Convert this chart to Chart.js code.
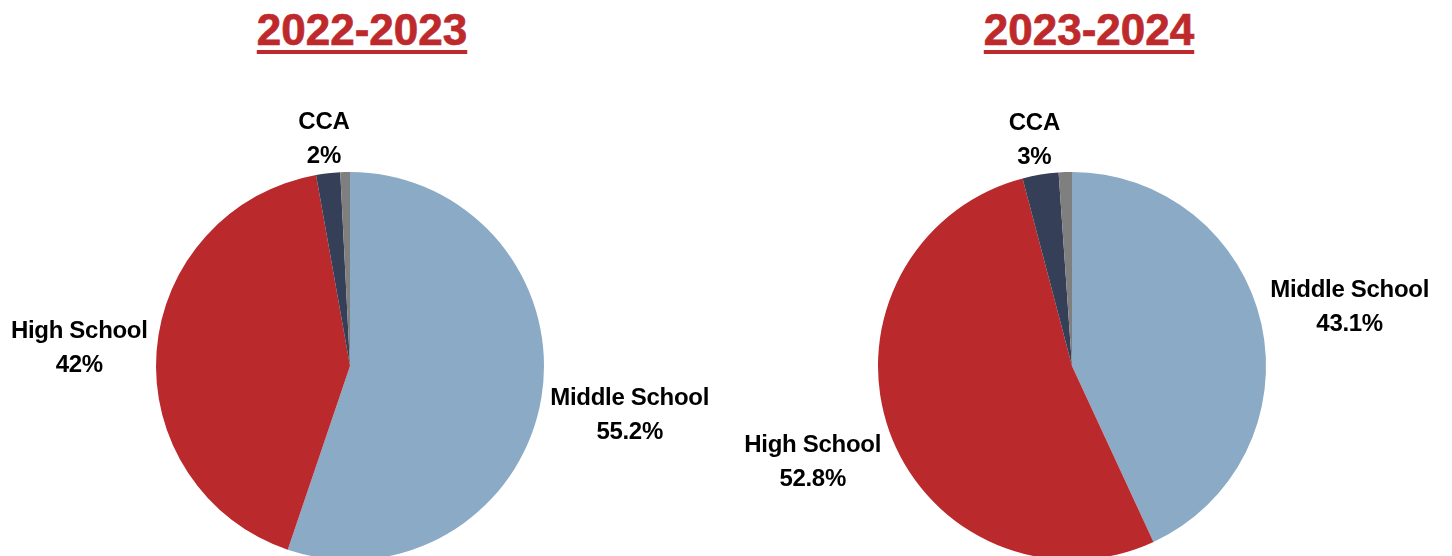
<!DOCTYPE html>
<html>
<head>
<meta charset="utf-8">
<script src="https://cdn.jsdelivr.net/npm/chart.js@4"></script>
<style>
  html, body { margin: 0; padding: 0; background: #fff; width: 1452px; height: 556px; overflow: hidden; }
  .wrap { position: absolute; top: 0; width: 726px; height: 570px; }
  .title {
    position: absolute; top: 8px; width: 500px; text-align: center;
    font-family: "Liberation Sans", Arial, sans-serif; font-weight: bold; font-size: 44px; line-height: 44px;
    color: #BE2A2C; text-decoration: underline; text-decoration-thickness: 4px; text-underline-offset: 5px;
    -webkit-text-stroke: 0.7px #BE2A2C;
  }
</style>
</head>
<body>
<div class="title" id="t1" style="left:112px"></div>
<div class="title" id="t2" style="left:839px"></div>
<div class="wrap" style="left:0"><canvas id="c1" width="726" height="570"></canvas></div>
<div class="wrap" style="left:726px"><canvas id="c2" width="726" height="570"></canvas></div>
<script>
const titles = ['2022-2023', '2023-2024'];
const categories = ['Middle School', 'High School', 'CCA', 'Other'];
const values2022 = [55.2, 42, 2, 0.8];
const values2023 = [43.1, 52.8, 3, 1.1];
const showLabel = [true, true, true, false];
const colors = ['#8AAAC6', '#BA292B', '#353F57', '#7F7F7F'];

document.getElementById('t1').textContent = titles[0];
document.getElementById('t2').textContent = titles[1];

const labelPlugin = {
  id: 'outsideLabels',
  afterDatasetsDraw(chart) {
    const ctx = chart.ctx;
    const meta = chart.getDatasetMeta(0);
    const data = chart.data.datasets[0].data;
    ctx.save();
    ctx.font = 'bold 24px "Liberation Sans", Arial, sans-serif';
    try { ctx.letterSpacing = '-0.3px'; } catch (e) {}
    ctx.fillStyle = '#000';
    ctx.textAlign = 'center';
    ctx.textBaseline = 'middle';
    const lineGap = 34;
    const gap = 9;
    meta.data.forEach((arc, i) => {
      if (!showLabel[i]) return;
      const p = arc.getProps(['x', 'y', 'startAngle', 'endAngle', 'outerRadius'], true);
      const mid = (p.startAngle + p.endAngle) / 2;
      const dx = Math.cos(mid), dy = Math.sin(mid);
      const lines = [chart.data.labels[i], String(data[i]) + '%'];
      const w = Math.max(...lines.map(l => ctx.measureText(l).width));
      const h = 56;
      const t = Math.min(Math.abs(dx) > 1e-6 ? (w / 2) / Math.abs(dx) : 1e9,
                         Math.abs(dy) > 1e-6 ? (h / 2) / Math.abs(dy) : 1e9);
      const d = p.outerRadius + gap + t;
      const cx = p.x + dx * d, cy = p.y + dy * d + 3;
      ctx.fillText(lines[0], cx, cy - lineGap / 2);
      ctx.fillText(lines[1], cx, cy + lineGap / 2);
    });
    ctx.restore();
  }
};

function makePie(id, values, pad) {
  new Chart(document.getElementById(id), {
    type: 'pie',
    data: {
      labels: categories,
      datasets: [{ data: values, backgroundColor: colors, borderWidth: 0 }]
    },
    options: {
      responsive: false,
      animation: false,
      layout: { padding: pad },
      plugins: { legend: { display: false }, tooltip: { enabled: false } }
    },
    plugins: [labelPlugin]
  });
}
makePie('c1', values2022, { left: 156, right: 182, top: 172, bottom: 10 });
makePie('c2', values2023, { left: 152, right: 186, top: 172, bottom: 10 });
</script>
</body>
</html>
